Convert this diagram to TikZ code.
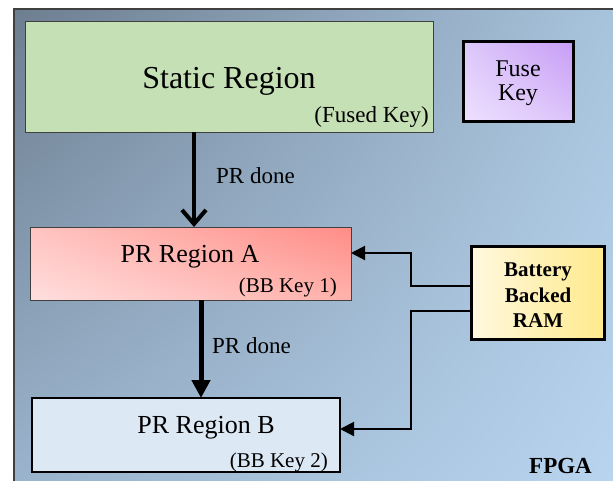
\documentclass[tikz,border=0pt]{standalone}
\usepackage{fontspec}
\setmainfont{Liberation Serif}
\usetikzlibrary{arrows.meta,shadings}
\definecolor{bgUL}{HTML}{6D7E90}
\definecolor{bgUR}{HTML}{A9C5DE}
\definecolor{bgLL}{HTML}{9BB4CD}
\definecolor{bgLR}{HTML}{B9D5EF}
\definecolor{staticfill}{HTML}{C5E0B4}
\definecolor{prbfill}{HTML}{DDE8F5}
\definecolor{edgegray}{HTML}{404040}
\definecolor{fuUL}{RGB}{220,200,250}
\definecolor{fuUR}{RGB}{200,156,246}
\definecolor{fuLL}{RGB}{238,224,255}
\definecolor{fuLR}{RGB}{220,196,250}
\definecolor{paUL}{RGB}{255,196,192}
\definecolor{paUR}{RGB}{255,140,134}
\definecolor{paLL}{RGB}{255,222,222}
\definecolor{paLR}{RGB}{255,178,172}
\definecolor{ramL}{RGB}{255,248,222}
\definecolor{ramR}{RGB}{255,234,140}
\begin{document}
\begin{tikzpicture}[x=1pt,y=-1pt,
  box/.style={rectangle,inner sep=0pt,outer sep=0pt},
  fs/.style={font=\fontsize{#1}{#1}\selectfont},
  txt/.style={inner sep=0pt,anchor=base},
  bigarrow/.style={line width=4pt,-{Straight Barb[length=14pt,width=24pt]}},
  midarrow/.style={line width=5pt,-{Triangle[length=18pt,width=18pt]}},
  smallarrow/.style={line width=2pt,-{Triangle[length=14pt,width=14pt]}}]
\useasboundingbox (0,0) rectangle (613,480);
\clip (0,0) rectangle (613,480);
\shade[upper left=bgUL,upper right=bgUR,lower left=bgLL,lower right=bgLR] (13.5,9) rectangle (625,490);
\draw[edgegray,line width=2pt] (13.5,492) -- (13.5,9) -- (625,9);
% boxes
\node[box,draw=edgegray,line width=1pt,fill=staticfill,minimum width=408pt,minimum height=111pt] (static) at (229,76.5) {};
\node[box,draw=black,line width=3pt,upper left=fuUL,upper right=fuUR,lower left=fuLL,lower right=fuLR,minimum width=110pt,minimum height=80pt] (fuse) at (518,81) {};
\node[box,draw=edgegray,line width=1pt,upper left=paUL,upper right=paUR,lower left=paLL,lower right=paLR,minimum width=321pt,minimum height=73pt] (pra) at (190.5,263.5) {};
\node[box,draw=black,line width=1.5pt,fill=prbfill,minimum width=308pt,minimum height=74pt] (prb) at (186,435) {};
\node[box,draw=black,line width=3pt,left color=ramL,right color=ramR,minimum width=133pt,minimum height=93pt] (ram) at (537.5,292.5) {};
% texts
\node[txt,fs=32] (tstatic) at (229,88) {Static Region};
\node[txt,fs=23,anchor=base east] (tfused) at (429,122) {(Fused Key)};
\node[txt,fs=24] (tfuse) at (518,76) {Fuse};
\node[txt,fs=24] (tkey) at (518,100) {Key};
\node[txt,fs=26] (tpra) at (190,262) {PR Region A};
\node[txt,fs=21,anchor=base east] (tbb1) at (337,292) {(BB Key 1)};
\node[txt,fs=26] (tprb) at (206,433) {PR Region B};
\node[txt,fs=21,anchor=base east] (tbb2) at (328,467) {(BB Key 2)};
\node[txt,fs=23,anchor=base west] (tdone1) at (216,183) {PR done};
\node[txt,fs=23,anchor=base west] (tdone2) at (212,353) {PR done};
\node[txt,font=\fontsize{21}{21}\selectfont\bfseries] (tbat) at (538,276) {Battery};
\node[txt,font=\fontsize{21}{21}\selectfont\bfseries] (tbacked) at (538,302) {Backed};
\node[txt,font=\fontsize{21}{21}\selectfont\bfseries] (tram) at (538,327) {RAM};
\node[txt,font=\fontsize{23}{23}\selectfont\bfseries,anchor=base east] (tfpga) at (592,473) {FPGA};
% connector coordinates
\coordinate (c1) at (194,0);
\coordinate (c2) at (201,0);
\coordinate (ya) at (0,286);
\coordinate (yb) at (0,311);
\coordinate (xa) at (411,253);
\coordinate (xb) at (411,429);
% connectors
\draw[bigarrow] (c1 |- static.south) -- (c1 |- pra.north);
\draw[midarrow] (c2 |- pra.south) -- (c2 |- prb.north);
\draw[smallarrow] (ram.west |- ya) -| (xa) -- (pra.east |- xa);
\draw[smallarrow] (ram.west |- yb) -| (xb) -- (prb.east |- xb);
\end{tikzpicture}
\end{document}
